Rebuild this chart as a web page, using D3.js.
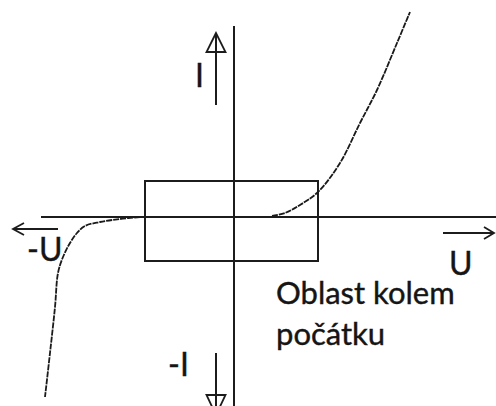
<!DOCTYPE html>
<html><head><meta charset="utf-8">
<script src="https://cdn.jsdelivr.net/npm/d3@7"></script>
<style>html,body{margin:0;padding:0;background:#fff;overflow:hidden}</style>
</head><body>
<svg id="c" width="496" height="406"></svg>
<script>
// Forward branch (U > 0) of the I-U characteristic
const forwardU = [1.9, 2.55, 3.3, 4.2, 5.3, 6.3, 7.15, 8.15, 8.8];
const forwardI = [0.05, 0.2, 0.6, 1.25, 2.7, 4.7, 6.35, 8.7, 10.25];
// Reverse branch (U < 0)
const reverseU = [-4.7, -5.7, -6.7, -7.45, -7.85, -8.2, -8.55, -8.8, -8.95, -9.2, -9.45];
const reverseI = [0, -0.1, -0.25, -0.45, -0.8, -1.3, -2, -2.8, -4.5, -6.8, -9];
// Region around the origin
const boxU = [-4.45, 4.2];
const boxI = [-2.2, 1.8];
const axisLabels = ["I", "-I", "-U", "U"];
const regionText = ["Oblast kolem", "počátku"];

const W = 496, H = 406;
const x = d3.scaleLinear().domain([-11.7, 13.1]).range([0, W]);
const y = d3.scaleLinear().domain([10.85, -9.45]).range([0, H]);
const svg = d3.select("#c");
const ink = "#1c1c1c";
const font = "Lato, 'Open Sans', sans-serif";

// Axes
svg.append("line").attr("x1", x(0)).attr("x2", x(0)).attr("y1", y(9.55)).attr("y2", H)
  .attr("stroke", ink).attr("stroke-width", 2);
svg.append("line").attr("x1", x(-9.65)).attr("x2", W).attr("y1", y(0)).attr("y2", y(0))
  .attr("stroke", ink).attr("stroke-width", 2);

// Box
svg.append("rect").attr("x", x(boxU[0])).attr("y", y(boxI[1]))
  .attr("width", x(boxU[1]) - x(boxU[0])).attr("height", y(boxI[0]) - y(boxI[1]))
  .attr("fill", "none").attr("stroke", ink).attr("stroke-width", 2);

// Curves
const line = d3.line().x(d => x(d[0])).y(d => y(d[1])).curve(d3.curveCatmullRom);
svg.append("path").datum(forwardU.map((u, i) => [u, forwardI[i]])).attr("d", line)
  .attr("fill", "none").attr("stroke", "#1a1a1a").attr("stroke-width", 1.8).attr("stroke-dasharray", "6,1");
svg.append("path").datum(reverseU.map((u, i) => [u, reverseI[i]])).attr("d", line)
  .attr("fill", "none").attr("stroke", "#1a1a1a").attr("stroke-width", 1.8).attr("stroke-dasharray", "6,1");

// Direction arrows
const ax = x(-0.9);
// up arrow
svg.append("line").attr("x1", ax).attr("x2", ax).attr("y1", y(5.6)).attr("y2", y(9.2))
  .attr("stroke", ink).attr("stroke-width", 2);
svg.append("path").attr("d", `M${ax},${y(9.2)} L${ax-9.5},${y(8.25)} L${ax+9.5},${y(8.25)} Z`)
  .attr("fill", "none").attr("stroke", ink).attr("stroke-width", 1.8);
// down arrow
svg.append("line").attr("x1", ax).attr("x2", ax).attr("y1", y(-6.8)).attr("y2", H)
  .attr("stroke", ink).attr("stroke-width", 2);
svg.append("path").attr("d", `M${ax-9.5},${y(-8.9)} L${ax+9.5},${y(-8.9)} L${ax},${y(-9.9)} Z`)
  .attr("fill", "none").attr("stroke", ink).attr("stroke-width", 1.8);
// left arrow
const ly = y(-0.6);
svg.append("line").attr("x1", x(-11.05)).attr("x2", x(-8.8)).attr("y1", ly).attr("y2", ly)
  .attr("stroke", ink).attr("stroke-width", 1.8);
svg.append("path").attr("d", `M${x(-10.5)},${ly-6} L${x(-11.05)},${ly} L${x(-10.5)},${ly+6}`)
  .attr("fill", "none").attr("stroke", ink).attr("stroke-width", 1.8);
// right arrow
const ry = y(-0.8);
svg.append("line").attr("x1", x(10.45)).attr("x2", x(13)).attr("y1", ry).attr("y2", ry)
  .attr("stroke", ink).attr("stroke-width", 1.8);
svg.append("path").attr("d", `M${x(12.5)},${ry-6} L${x(13)},${ry} L${x(12.5)},${ry+6}`)
  .attr("fill", "none").attr("stroke", ink).attr("stroke-width", 1.8);

// Labels
const lab = (t, u, i, size) => svg.append("text").attr("x", x(u)).attr("y", y(i))
  .attr("font-family", font).attr("font-size", size).attr("fill", "#151515")
  .attr("stroke", "#151515").attr("stroke-width", 0.4).text(t);
lab(axisLabels[0], -1.95, 6.5, 32);
lab(axisLabels[1], -3.3, -7.95, 32);
lab(axisLabels[2], -10.35, -2.2, 32);
lab(axisLabels[3], 10.75, -2.9, 32);
lab(regionText[0], 2.1, -4.35, 31);
lab(regionText[1], 2.1, -6.4, 31);
</script>
</body></html>
